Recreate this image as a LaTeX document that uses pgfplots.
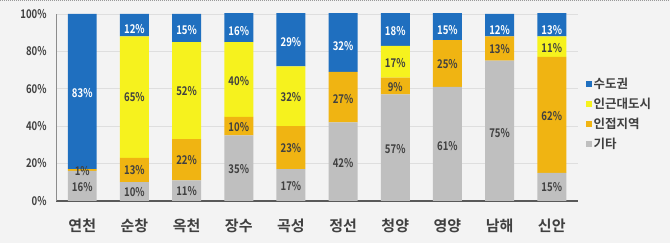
\documentclass[border=0pt]{standalone}
\usepackage{fontspec}
\setmainfont{Noto Sans CJK KR}[BoldFont={Noto Sans CJK KR Bold}]
\newfontfamily\lab{Noto Sans CJK KR}[FakeStretch=0.8, BoldFont={Noto Sans CJK KR Bold}, BoldFeatures={FakeStretch=0.8}]
\usepackage{pgfplots}
\pgfplotsset{compat=1.18}
\definecolor{cblue}{HTML}{1F6FBF}
\definecolor{cyel}{HTML}{F6F21E}
\definecolor{corg}{HTML}{F0B412}
\definecolor{cgray}{HTML}{BFBFBF}
\definecolor{bg}{HTML}{F3F3F3}
\definecolor{txt}{HTML}{404040}
\begin{document}
\begin{tikzpicture}[x=1pt,y=1pt]
\fill[bg] (-56,-42) rectangle (614,201);
\draw[black!40, dash pattern=on 1pt off 1pt] (-56,200.5) -- (614,200.5);
\begin{axis}[
 at={(0,0)}, anchor=south west,
 scale only axis, width=522pt, height=187pt,
 ybar stacked, bar width=29pt,
 xmin=-0.5, xmax=9.5, ymin=0, ymax=100,
 xtick={0,...,9}, xticklabels={연천,순창,옥천,장수,곡성,정선,청양,영양,남해,신안},
 ytick={0,20,...,100}, yticklabels={0\%,20\%,40\%,60\%,80\%,100\%},
 major tick length=0pt,
 axis x line*=bottom, axis y line*=left,
 x axis line style={draw=black!65, line width=1.3pt, -},
 y axis line style={draw=black!45, line width=0.8pt, -},
 ymajorgrids, grid style={draw=black!13, line width=0.8pt},
 yticklabel style={font=\lab\bfseries\fontsize{12}{12}\selectfont, text=txt, xshift=-6pt},
 xticklabel style={font=\bfseries\fontsize{15}{15}\selectfont, text=black!75, yshift=-15pt},
 legend style={at={(1.0096,0.679)}, anchor=north west, draw=none, fill=none,
   font=\bfseries\fontsize{12.5}{12.5}\selectfont, text=txt, row sep=4pt},
 legend cell align=left,
 reverse legend,
]
\addplot[fill=cgray, draw=none, legend image code/.code={\fill[cgray] (0pt,-2.8pt) rectangle (5.6pt,2.8pt);}]
 coordinates {(0,16) (1,10) (2,11) (3,35) (4,17) (5,42) (6,57) (7,61) (8,75) (9,15)};
\addplot[fill=corg, draw=none, legend image code/.code={\fill[corg] (0pt,-2.8pt) rectangle (5.6pt,2.8pt);}]
 coordinates {(0,1) (1,13) (2,22) (3,10) (4,23) (5,27) (6,9) (7,25) (8,13) (9,62)};
\addplot[fill=cyel, draw=none, legend image code/.code={\fill[cyel] (0pt,-2.8pt) rectangle (5.6pt,2.8pt);}]
 coordinates {(0,0) (1,65) (2,52) (3,40) (4,32) (5,0) (6,17) (7,0) (8,0) (9,11)};
\addplot[fill=cblue, draw=none, legend image code/.code={\fill[cblue] (0pt,-2.8pt) rectangle (5.6pt,2.8pt);}]
 coordinates {(0,83) (1,12) (2,15) (3,16) (4,29) (5,32) (6,18) (7,15) (8,12) (9,13)};
\legend{기타,인접지역,인근대도시,수도권}
\end{axis}
\begin{axis}[
 at={(0,0)}, anchor=south west,
 scale only axis, width=522pt, height=187pt,
 xmin=-0.5, xmax=9.5, ymin=0, ymax=100,
 hide axis, clip=false,
 every node near coord/.append style={anchor=center, font=\lab\bfseries\fontsize{12}{12}\selectfont},
]
\addplot[draw=none, mark=none, nodes near coords, point meta=explicit symbolic,
 every node near coord/.append style={text=black!75}]
 coordinates {
 (0,7.5)[16\%] (0,16)[1\%]
 (1,4.5)[10\%] (1,16.5)[13\%] (1,55.5)[65\%]
 (2,5.5)[11\%] (2,22)[22\%] (2,58.5)[52\%]
 (3,17)[35\%] (3,39.5)[10\%] (3,64)[40\%]
 (4,8)[17\%] (4,28)[23\%] (4,55.5)[32\%]
 (5,20.5)[42\%] (5,54.5)[27\%]
 (6,27.5)[57\%] (6,61)[9\%] (6,73.5)[17\%]
 (7,29.5)[61\%] (7,73)[25\%]
 (8,36.5)[75\%] (8,81)[13\%]
 (9,7.5)[15\%] (9,45.5)[62\%] (9,81.5)[11\%]
 };
\addplot[draw=none, mark=none, nodes near coords, point meta=explicit symbolic,
 every node near coord/.append style={text=white}]
 coordinates {
 (0,57.5)[83\%] (1,92)[12\%] (2,91.5)[15\%] (3,91)[16\%] (4,85)[29\%]
 (5,83)[32\%] (6,91)[18\%] (7,91.5)[15\%] (8,91.5)[12\%] (9,91.5)[13\%]
 };
\end{axis}
\end{tikzpicture}
\end{document}
